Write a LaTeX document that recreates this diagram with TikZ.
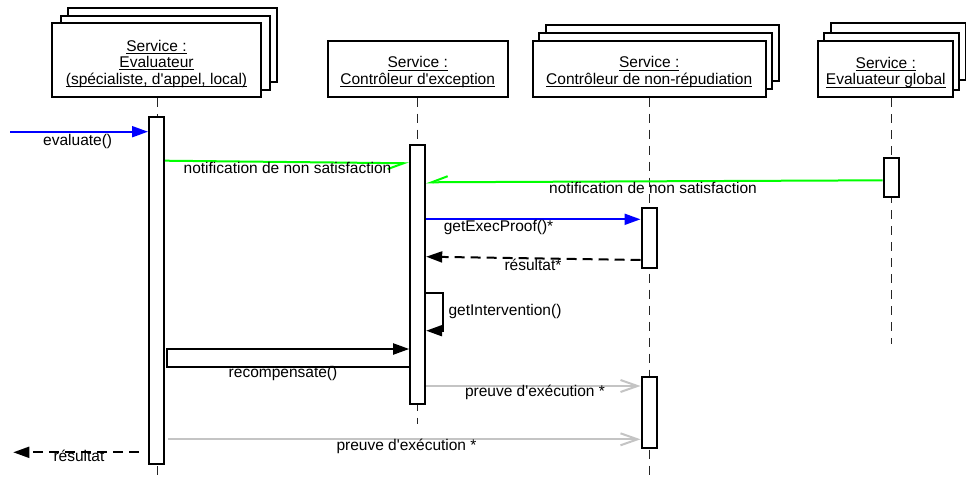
\documentclass[tikz,border=0pt]{standalone}
\usepackage{fontspec}
\setmainfont{Liberation Sans}
\usetikzlibrary{arrows.meta}
\newcommand\ulx[1]{\setbox0\hbox{#1}\rlap{\rule[-2.6pt]{\wd0}{0.9pt}}\box0}
\newcommand\q{\textquotesingle}
\definecolor{msgblue}{RGB}{0,0,255}
\definecolor{msggreen}{RGB}{0,255,0}
\definecolor{msggray}{RGB}{196,196,196}
\begin{document}
\begin{tikzpicture}[x=1pt,y=-1pt,
  every node/.style={font=\fontsize{15.5}{16.5}\selectfont, text=black},
  head/.style={draw, line width=2pt, fill=white, inner sep=0pt},
  headtext/.style={align=center, inner sep=0pt},
  backbox/.style={draw, line width=2pt, fill=white},
  bar/.style={draw, line width=2pt, fill=white, minimum width=15pt, inner sep=0pt},
  life/.style={line width=1pt, dash pattern=on 9pt off 7pt, black!85},
  sync/.style={line width=2pt, -{Triangle[length=16pt,width=11pt]}},
  async/.style={line width=2pt, msggreen, -{Straight Barb[right,length=16pt,width=12pt]}},
  ret/.style={line width=2pt, dash pattern=on 10pt off 6pt, -{Triangle[length=16pt,width=11pt]}},
  proof/.style={line width=2pt, msggray, -{Straight Barb[length=17pt,width=12pt]}},
  lbl/.style={anchor=base, inner sep=0pt}
]
\useasboundingbox (0,0) rectangle (966,477);
\clip (0,0) rectangle (966,477);

% ---------- lifeline heads ----------
\coordinate (P1) at (156.5,60);
\draw[backbox] ([shift={(16,-15)}]P1) ++(-104.5,-37) rectangle ++(209,74);
\draw[backbox] ([shift={(8.5,-7.5)}]P1) ++(-104.5,-37) rectangle ++(209,74);
\node[head, minimum width=209pt, minimum height=74pt] (H1) at (P1) {};
\node[headtext] (H1t) at ([shift={(0,3.5)}]H1.center)
  {\ulx{Service :}\\\ulx{Evaluateur}\\\ulx{(spécialiste, d\q appel, local)}};

\node[head, minimum width=180pt, minimum height=56pt] (H2) at (417.7,68.7) {};
\node[headtext] (H2t) at ([shift={(0,3.5)}]H2.center)
  {\ulx{Service :}\\\ulx{Contrôleur d\q exception}};

\coordinate (P3) at (649.2,68.7);
\draw[backbox] ([shift={(13,-16)}]P3) ++(-116.5,-28) rectangle ++(233,56);
\draw[backbox] ([shift={(6,-7.5)}]P3) ++(-116.5,-28) rectangle ++(233,56);
\node[head, minimum width=233pt, minimum height=56pt] (H3) at (P3) {};
\node[headtext] (H3t) at ([shift={(0,3.5)}]H3.center)
  {\ulx{Service :}\\\ulx{Contrôleur de non-répudiation}};

\coordinate (P4) at (885.8,69.2);
\draw[backbox] ([shift={(12.4,-17.7)}]P4) ++(-67.5,-28.2) rectangle ++(135,56.3);
\draw[backbox] ([shift={(5.8,-7.8)}]P4) ++(-67.5,-28.2) rectangle ++(135,56.3);
\node[head, minimum width=135pt, minimum height=56.3pt] (H4) at (P4) {};
\node[headtext] (H4t) at ([shift={(0,3.5)}]H4.center)
  {\ulx{Service :}\\\ulx{Evaluateur global}};

% ---------- lifelines ----------
\coordinate (E1) at (157,476);
\coordinate (E2) at (417.7,424);
\coordinate (E3) at (649,477);
\coordinate (E4) at (891.2,344);
\draw[life] (H1.south -| E1) -- (E1);
\draw[life] (H2.south) -- (E2);
\draw[life] (H3.south -| E3) -- (E3);
\draw[life] (H4.south -| E4) -- (E4);

% ---------- activation bars ----------
\node[bar, minimum height=347pt] (A1) at (156.5,290.5) {};
\node[bar, minimum height=259.3pt] (A2) at (417.7,274.7) {};
\node[bar, minimum height=60pt] (A3a) at (649,238) {};
\node[bar, minimum height=70.7pt] (A3b) at (649,412.7) {};
\node[bar, minimum height=39.6pt] (A4) at (891.2,177.5) {};

% ---------- messages ----------
\coordinate (ev0) at (10,131.7);
\draw[sync, msgblue] (ev0) -- (A1.west |- ev0);
\node[lbl] (t1) at (77.7,145) {evaluate()};

\draw[async] (A1.east |- 0,160.7) -- (A2.west |- 0,163.3);
\node[lbl] (t2) at (287.5,173) {notification de non satisfaction};

\draw[async] (A4.west |- 0,180.3) -- (A2.east |- 0,182.3);
\node[lbl] (t3) at (653,193.3) {notification de non satisfaction};

\draw[sync, msgblue] (A2.east |- 0,219.3) -- (A3a.west |- 0,219.3);
\node[lbl] (t4) at (498.5,231) {getExecProof()*};

\draw[ret] (A3a.west |- 0,260) -- (A2.east |- 0,256.7);
\node[lbl] (t5) at (533,270) {résultat*};

\draw[sync] (A2.east |- 0,293.3) -- (442.7,293.3) -- (442.7,330.7) -- (A2.east |- 0,330.7);
\node[lbl] (t6) at (505,315.7) {getIntervention()};

\draw[sync] (A2.west |- 0,366.7) -- (167.3,366.7) -- (167.3,349) -- (A2.west |- 0,349);
\node[lbl] (t7) at (283,377.7) {recompensate()};

\draw[proof] (A2.east |- 0,386) -- (A3b.west |- 0,386);
\node[lbl] (t8) at (535,396.7) {preuve d\q exécution *};

\draw[proof] ([xshift=3pt]A1.east |- 0,439.3) -- (A3b.west |- 0,439.3);
\node[lbl] (t9) at (406.5,450.7) {preuve d\q exécution *};

\coordinate (res0) at (13.3,452.3);
\draw[ret, shorten <=9pt] (A1.west |- res0) -- (res0);
\node[lbl] (t10) at (79,461.7) {résultat};
\end{tikzpicture}
\end{document}
